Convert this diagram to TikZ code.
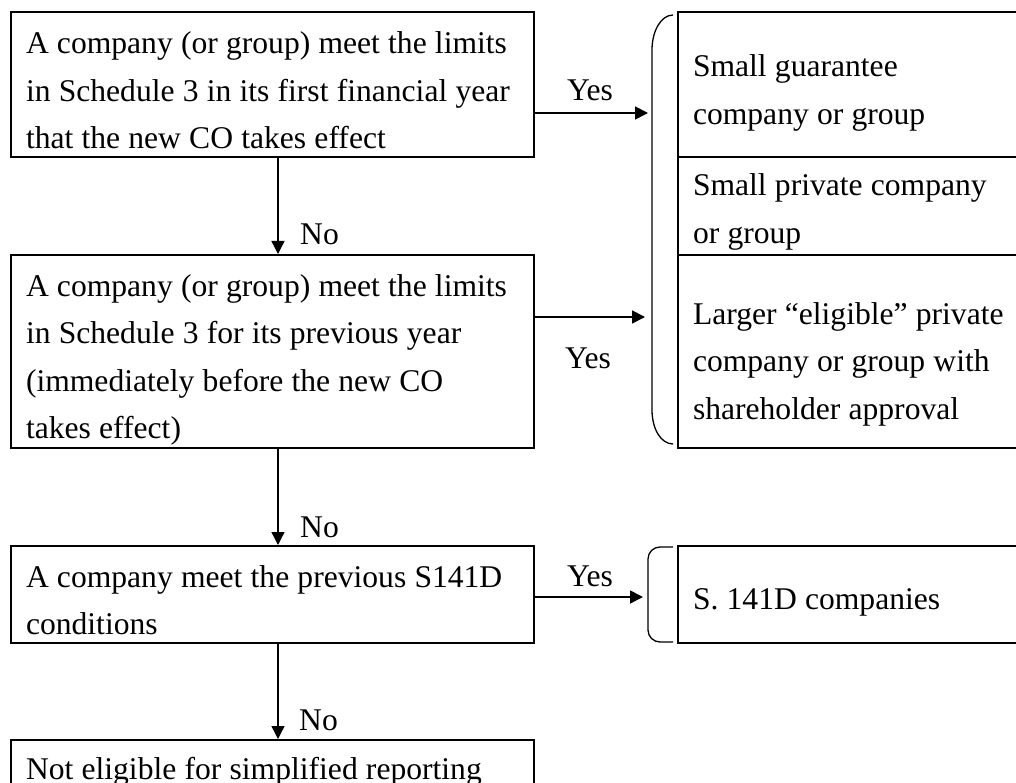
\documentclass[tikz,border=0pt]{standalone}
\usepackage{fontspec}
\setmainfont{Liberation Serif}
\usetikzlibrary{arrows.meta}

\begin{document}
\begin{tikzpicture}[x=1pt,y=-1pt,font=\fontsize{31.6pt}{47.5pt}\selectfont,
  every node/.append style={execute at begin node={\spaceskip=8.2pt\relax}},
  qbox/.style={draw,line width=2pt,anchor=north west,inner ysep=0pt,inner xsep=15pt,text width=493pt,align=left},
  rbox/.style={draw,line width=2pt,anchor=north west,inner ysep=0pt,inner xsep=15pt,text width=340pt,align=left},
  yesarrow/.style={-{Triangle[length=13pt,width=13pt]},line width=1.8pt},
  noarrow/.style={-{Triangle[length=13pt,width=13pt]},line width=1.3pt},
  brace/.style={line width=1.3pt},
  lbl/.style={inner sep=0pt}]
\useasboundingbox (0,0) rectangle (1016,783);
\node[qbox,text height=42pt,text depth=103pt] (q1) at (10,11) {A company (or group) meet the limits\\in Schedule 3 in its first financial year\\that the new CO takes effect};
\node[qbox,text height=41pt,text depth=152pt] (q2) at (10,254) {A company (or group) meet the limits\\in Schedule 3 for its previous year\\(immediately before the new CO\\takes effect)};
\node[qbox,text height=41pt,text depth=56pt] (q3) at (10,545) {A company meet the previous S141D\\conditions};
\node[qbox,text height=39pt,text depth=60pt] (q4) at (10,739) {Not eligible for simplified reporting};
\node[rbox,text height=65pt,text depth=80pt] (r1) at (677,11) {Small guarantee\\company or group};
\node[rbox,text height=39pt,text depth=59pt] (r2) at (677,156) {Small private company\\or group};
\node[rbox,text height=69pt,text depth=124pt] (r3) at (677,254) {Larger “eligible” private\\company or group with\\shareholder approval};
\node[rbox,text height=63pt,text depth=34pt] (r4) at (677,545) {S. 141D companies};
\draw[brace] (673,15) .. controls (661,15) and (652,31) .. (652,50) -- (652,410) .. controls (652,429) and (661,444) .. (673,444);
\draw[brace,rounded corners=12pt] (673,547) -- (648,547) -- (648,642) -- (673,642);
\coordinate (t1) at (648,113);
\coordinate (t2) at (645,317);
\coordinate (t3) at (643,597);
\draw[yesarrow] (q1.east |- t1) -- (t1);
\draw[yesarrow] (q2.east |- t2) -- (t2);
\draw[yesarrow] (q3.east |- t3) -- (t3);
\draw[noarrow] ([xshift=5.5pt]q1.south) -- ([xshift=5.5pt]q2.north);
\draw[noarrow] ([xshift=5.5pt]q2.south) -- ([xshift=5.5pt]q3.north);
\draw[noarrow] ([xshift=5.5pt]q3.south) -- ([xshift=5.5pt]q4.north);
\node[lbl,anchor=base] (yes1) at (590,101) {Yes};
\node[lbl,anchor=base] (yes2) at (588,368) {Yes};
\node[lbl,anchor=base] (yes3) at (590,586) {Yes};
\node[lbl,anchor=base west] (no1) at (300,245) {No};
\node[lbl,anchor=base west] (no2) at (300,537) {No};
\node[lbl,anchor=base west] (no3) at (299,730) {No};
\end{tikzpicture}
\end{document}
